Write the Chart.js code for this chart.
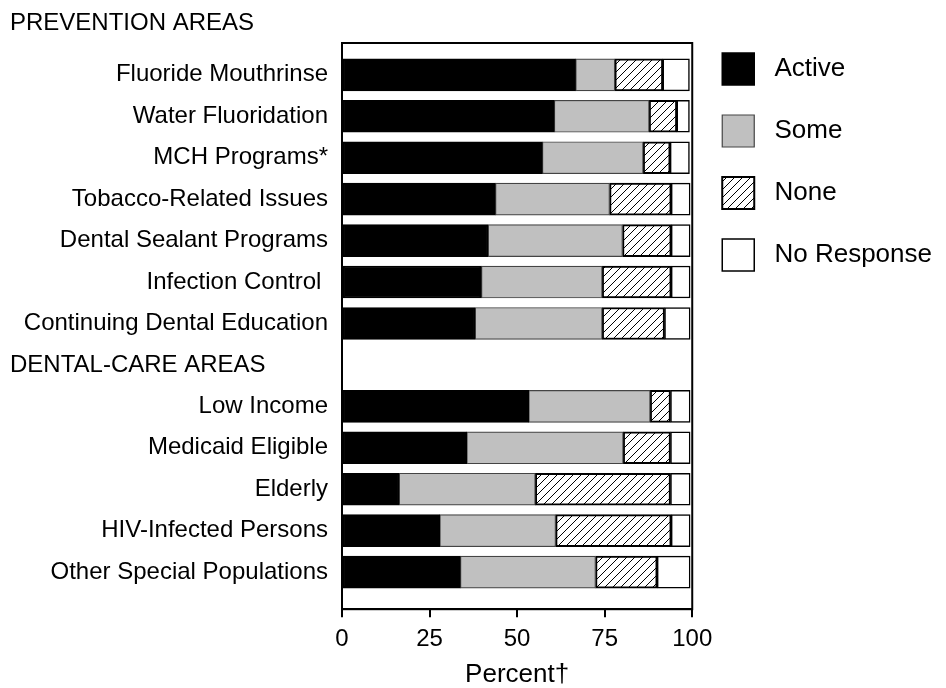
<!DOCTYPE html>
<html>
<head>
<meta charset="utf-8">
<script src="https://cdn.jsdelivr.net/npm/chart.js@4/dist/chart.umd.min.js"></script>
<style>
  body { margin: 0; background: #fff; }
  #wrap { width: 946px; height: 688px; position: relative; }
</style>
</head>
<body>
<div id="wrap"><canvas id="areasChart"></canvas></div>
<script>
// data (percent of programs)
const categories = ['Fluoride Mouthrinse', 'Water Fluoridation', 'MCH Programs*', 'Tobacco-Related Issues',
  'Dental Sealant Programs', 'Infection Control ', 'Continuing Dental Education',
  'Low Income', 'Medicaid Eligible', 'Elderly', 'HIV-Infected Persons', 'Other Special Populations'];
const sectionHeaders = ['PREVENTION AREAS', 'DENTAL-CARE AREAS'];
const activeVals = [66.7, 60.6, 57.2, 43.8, 41.7, 39.8, 38.0, 53.3, 35.6, 16.3, 27.9, 33.8];
const someVals   = [11.2, 27.1, 28.8, 32.6, 38.4, 34.5, 36.3, 34.7, 44.7, 38.9, 33.1, 38.6];
const noneVals   = [13.7,  7.9,  7.7, 17.6, 13.9, 19.7, 17.8,  5.8, 13.5, 38.6, 33.0, 17.6];
const noRespVals = [ 7.6,  3.6,  5.5,  5.4,  5.4,  5.4,  7.3,  5.6,  5.6,  5.6,  5.4,  9.4];
const xTicks = [0, 25, 50, 75, 100];

const FONT = '"Liberation Sans", Arial, sans-serif';

// row 7 is left free for the second section header
function rowPos(i) { return i < 7 ? i : i + 1; }
function points(vals) { return vals.map((v, i) => ({ x: v, y: rowPos(i) })); }

// diagonal hatch for "None"
function hatch() {
  const c = document.createElement('canvas');
  c.width = 8; c.height = 8;
  const g = c.getContext('2d');
  g.fillStyle = '#fff';
  g.fillRect(0, 0, 8, 8);
  g.strokeStyle = '#000';
  g.lineWidth = 1;
  g.beginPath();
  g.moveTo(0, 8); g.lineTo(8, 0);
  g.moveTo(-1, 1); g.lineTo(1, -1);
  g.moveTo(7, 9); g.lineTo(9, 7);
  g.stroke();
  return g.createPattern(c, 'repeat');
}

const frameAndHeaders = {
  id: 'frameAndHeaders',
  afterDatasetsDraw(chart) {
    const { ctx, chartArea: a } = chart;
    ctx.save();
    ctx.strokeStyle = '#000';
    ctx.lineWidth = 2;
    ctx.strokeRect(a.left, a.top, a.right - a.left, a.bottom - a.top);
    ctx.restore();
  },
  afterDraw(chart) {
    const ctx = chart.ctx;
    const y = chart.scales.y.getPixelForValue(7);
    ctx.save();
    ctx.font = '24px ' + FONT;
    ctx.fillStyle = '#000';
    ctx.textAlign = 'left';
    ctx.textBaseline = 'middle';
    ctx.fillText(sectionHeaders[1], chart.options.layout.padding.left, y);
    ctx.restore();
  }
};

document.addEventListener('DOMContentLoaded', function() {
  const ctx = document.getElementById('areasChart');
  const common = { barThickness: 32, borderSkipped: false };

  new Chart(ctx.getContext('2d'), {
    type: 'bar',
    data: {
      datasets: [
        Object.assign({ label: 'Active', data: points(activeVals), backgroundColor: '#000', borderColor: '#000', borderWidth: 1.5 }, common),
        Object.assign({ label: 'Some', data: points(someVals), backgroundColor: '#c0c0c0', borderColor: '#444', borderWidth: 1.2 }, common),
        Object.assign({ label: 'None', data: points(noneVals), backgroundColor: hatch(), borderColor: '#000', borderWidth: 2 }, common),
        Object.assign({ label: 'No Response', data: points(noRespVals), backgroundColor: '#fff', borderColor: '#000', borderWidth: 1.5 }, common)
      ]
    },
    options: {
      indexAxis: 'y',
      responsive: true,
      maintainAspectRatio: false,
      animation: false,
      layout: { padding: { top: 5, left: 10, right: 4, bottom: 0 } },
      scales: {
        x: {
          type: 'linear',
          stacked: true,
          min: 0,
          max: 100,
          afterBuildTicks: s => { s.ticks = xTicks.map(v => ({ value: v })); },
          ticks: { color: '#000', padding: 8, font: { family: FONT, size: 24 } },
          grid: { drawOnChartArea: false, drawTicks: true, tickLength: 8, color: '#000', lineWidth: 2 },
          border: { display: true, color: '#000', width: 2 },
          title: { display: true, text: 'Percent\u2020', color: '#000', padding: { top: 0, bottom: 0 },
                   font: { family: FONT, size: 26, lineHeight: 1 } }
        },
        y: {
          type: 'linear',
          stacked: true,
          reverse: true,
          offset: false,
          bounds: 'data',
          min: -0.768,
          max: 12.895,
          afterBuildTicks: s => { s.ticks = categories.map((c, i) => ({ value: rowPos(i) })); },
          afterFit: s => { s.width = 332; },
          ticks: {
            color: '#000',
            padding: 6,
            font: { family: FONT, size: 24 },
            callback: v => categories[v < 7 ? v : v - 1]
          },
          grid: { display: false, offset: false },
          border: { display: true, color: '#000', width: 2 }
        }
      },
      plugins: {
        title: {
          display: true,
          text: sectionHeaders[0],
          align: 'start',
          color: '#000',
          padding: { top: 6.5, bottom: 7.5 },
          font: { family: FONT, size: 24, weight: 'normal', lineHeight: 1 }
        },
        legend: {
          position: 'right',
          align: 'start',
          maxWidth: 260,
          title: { display: true, text: '', padding: { top: 8, bottom: 0 }, font: { size: 10, lineHeight: 1 } },
          labels: {
            boxWidth: 32,
            boxHeight: 32,
            padding: 30,
            color: '#000',
            font: { family: FONT, size: 26 },
            generateLabels: function(chart) {
              return Chart.defaults.plugins.legend.labels.generateLabels(chart)
                .map(l => Object.assign(l, { text: ' ' + l.text }));
            }
          }
        },
        tooltip: { enabled: false }
      }
    },
    plugins: [frameAndHeaders]
  });
});
</script>
</body>
</html>
